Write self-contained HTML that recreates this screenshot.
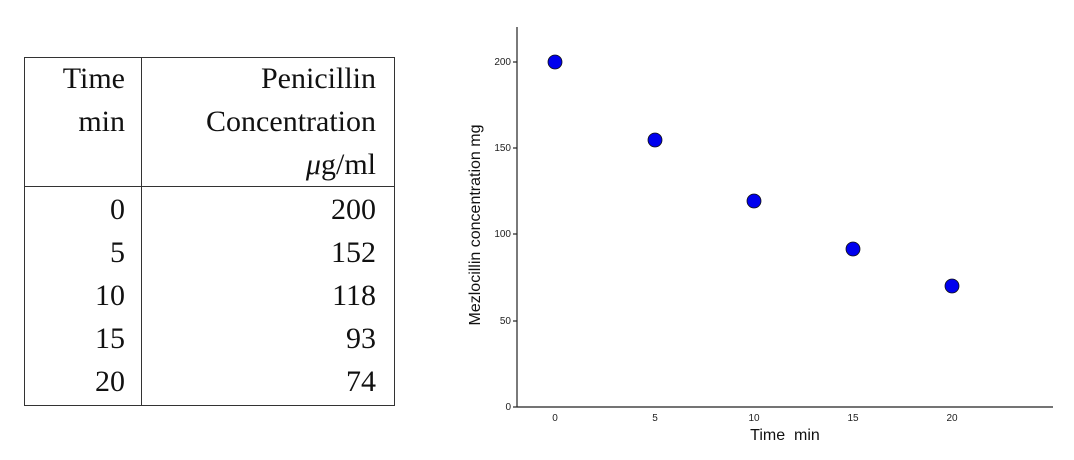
<!DOCTYPE html>
<html><head><style>
html,body{margin:0;padding:0;background:#fff;width:1074px;height:460px;overflow:hidden}
.t{position:absolute;font-family:"Liberation Serif",serif;font-size:30px;color:#111;line-height:1}
</style></head><body>
<div style="position:absolute;left:24px;top:57px;width:369px;height:347px;border:1px solid #333"></div>
<div style="position:absolute;left:141px;top:57px;width:1px;height:349px;background:#333"></div>
<div style="position:absolute;left:24px;top:186px;width:371px;height:1px;background:#333"></div>
<div class="t" style="right:949px;top:64px">Time</div>
<div class="t" style="right:949px;top:107px">min</div>
<div class="t" style="right:698px;top:64px">Penicillin</div>
<div class="t" style="right:698px;top:107px">Concentration</div>
<div class="t" style="right:698px;top:150px"><i>μ</i>g/ml</div>
<div class="t" style="right:949px;top:195px">0</div>
<div class="t" style="right:949px;top:238px">5</div>
<div class="t" style="right:949px;top:281px">10</div>
<div class="t" style="right:949px;top:324px">15</div>
<div class="t" style="right:949px;top:367px">20</div>
<div class="t" style="right:698px;top:195px">200</div>
<div class="t" style="right:698px;top:238px">152</div>
<div class="t" style="right:698px;top:281px">118</div>
<div class="t" style="right:698px;top:324px">93</div>
<div class="t" style="right:698px;top:367px">74</div>
<svg width="1074" height="460" style="position:absolute;left:0;top:0" font-family="Liberation Sans,sans-serif">
<g stroke="#222" stroke-width="1.2">
<line x1="517" y1="27" x2="517" y2="407"/>
<line x1="517" y1="407" x2="1053" y2="407"/>
<line x1="513" y1="62" x2="517" y2="62"/><line x1="513" y1="148" x2="517" y2="148"/>
<line x1="513" y1="234" x2="517" y2="234"/><line x1="513" y1="321" x2="517" y2="321"/>
<line x1="513" y1="407" x2="517" y2="407"/>
</g>
<g font-size="10" fill="#222" text-anchor="end">
<text x="511" y="65">200</text><text x="511" y="151">150</text><text x="511" y="237">100</text><text x="511" y="324">50</text><text x="511" y="410">0</text>
</g>
<g font-size="10" fill="#222" text-anchor="middle">
<text x="555" y="421">0</text><text x="655" y="421">5</text><text x="754" y="421">10</text><text x="853" y="421">15</text><text x="952" y="421">20</text>
</g>
<text x="785" y="440" font-size="16" text-anchor="middle" fill="#111" xml:space="preserve">Time  min</text>
<text transform="translate(480,225) rotate(-90)" font-size="16" text-anchor="middle" fill="#111">Mezlocillin concentration mg</text>
<g fill="#0000ee" stroke="#111" stroke-width="0.8">
<ellipse cx="555" cy="62" rx="7" ry="7"/>
<ellipse cx="655" cy="140" rx="7" ry="7"/>
<ellipse cx="754" cy="201" rx="7" ry="7"/>
<ellipse cx="853" cy="249" rx="7" ry="7"/>
<ellipse cx="952" cy="286" rx="7" ry="7"/>
</g>
</svg>
</body></html>
